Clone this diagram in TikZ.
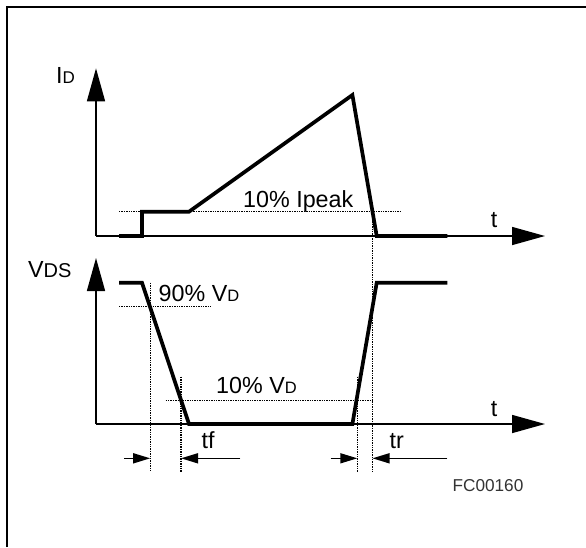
\documentclass[tikz,border=0pt]{standalone}
\usepackage{fontspec}
\setmainfont{Liberation Sans}
\usetikzlibrary{arrows.meta}
\begin{document}
\begin{tikzpicture}[x=1pt, y=-1pt,
    axis/.style={line width=1.5pt, -{Triangle[length=33pt,width=18pt]}},
    wave/.style={line width=3.7pt, line join=miter},
    dotline/.style={line width=1.4pt, dash pattern=on 1.4pt off 1pt},
    dimarrow/.style={line width=1.5pt, -{Triangle[length=17pt,width=10pt]}},
    lab/.style={font=\fontsize{23.3}{28}\selectfont, inner sep=0pt, anchor=base}]
    \useasboundingbox (0,0) rectangle (586,547);

    % Frame (top and left edge only)
    \draw[line width=2.2pt] (7.3,547) -- (7.3,7.3) -- (586,7.3);

    % Drain current axes
    \coordinate (oI) at (96,236);
    \coordinate (topI) at (96,68.3);
    \coordinate (endI) at (545,236);
    \draw[axis] (oI) -- (topI);
    \draw[axis] (oI) -- (endI);

    % Drain-source voltage axes
    \coordinate (oV) at (96,424);
    \coordinate (topV) at (96,258);
    \coordinate (endV) at (545,424);
    \draw[axis] (oV) -- (topV);
    \draw[axis] (oV) -- (endV);

    % Threshold levels (dotted)
    \draw[dotline] (119,211.7) -- (400.6,211.7);
    \draw[dotline] (119,306.7) -- (210.4,306.7);
    \draw[dotline] (165.5,400.7) -- (374,400.7);
    \foreach \x/\ya in {150.2/282.7, 181/376.7, 357.3/376.7, 372.5/211.7} {
        \draw[dotline] (\x,\ya) -- (\x,471.5);
    }

    % Waveforms
    \draw[wave] (119,236) -- (142,236) -- (142,211.7) -- (189,211.7) -- (352.4,95) -- (376.7,236) -- (447.3,236);
    \draw[wave] (119,282.7) -- (142,282.7) -- (189,424) -- (352.4,424) -- (376.7,282.7) -- (447.3,282.7);

    % Switching time markers
    \coordinate (fa) at (150.2,458.3);
    \coordinate (fb) at (181,458.3);
    \coordinate (ra) at (357.3,458.3);
    \coordinate (rb) at (372.5,458.3);
    \draw[dimarrow] (124.4,458.3) -- (fa);
    \draw[dimarrow] (240.3,458.3) -- (fb);
    \draw[dimarrow] (330.7,458.3) -- (ra);
    \draw[dimarrow] (447.3,458.3) -- (rb);

    % Labels
    \node[lab, anchor=base west] (lid) at (56,83) {I{\fontsize{17}{20}\selectfont D}};
    \node[lab, anchor=base west] (lvds) at (28,277) {V{\fontsize{20}{24}\selectfont DS}};
    \node[lab] (ltI) at (494,227) {t};
    \node[lab] (ltV) at (494,416.7) {t};
    \node[lab, anchor=base west] (lpeak) at (243,207) {10\% Ipeak};
    \node[lab, anchor=base west] (lninety) at (158.5,301.7) {90\% V{\fontsize{16.5}{20}\selectfont D}};
    \node[lab, anchor=base west] (lten) at (216,393) {10\% V{\fontsize{16.5}{20}\selectfont D}};
    \node[lab] (ltf) at (208,448.5) {tf};
    \node[lab] (ltr) at (396.7,448.5) {tr};
    \node[lab, font=\fontsize{17.2}{20}\selectfont, text=black!80] (lfc) at (488,491) {FC00160};
\end{tikzpicture}
\end{document}
